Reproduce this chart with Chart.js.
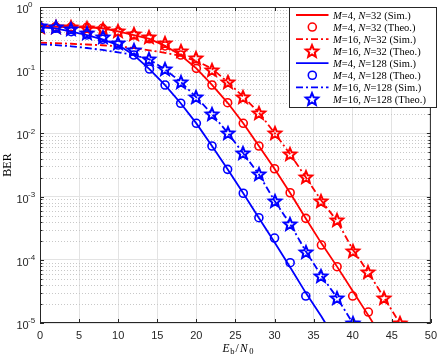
<!DOCTYPE html>
<html><head><meta charset="utf-8">
<script src="https://cdn.jsdelivr.net/npm/chart.js@4/dist/chart.umd.min.js"></script>
<style>html,body{margin:0;padding:0;background:#fff}#wrap{width:443px;height:354px;position:relative}</style>
</head><body><div id="wrap"><canvas id="c" width="443" height="354"></canvas></div>
<script>
// ---------- data ----------
const xM4N32Theo = [0,2,4,6,8,10,12,14,16,18,20,22,24,26,28,30,32,34,36,38,40,42];
const berM4N32Theo = [0.491,0.488,0.483,0.477,0.460,0.407,0.361,0.314,0.242,0.174,0.107,0.0583,0.0306,0.01445,0.00632,0.00276,0.00115,0.000453,0.000171,7.78e-5,2.67e-5,1.49e-5];
const xM4N32Sim = [0,2,4,6,8,10,12,14,16,18,20,22,24,26,28,30,32,34,36,38,40,42,42.6];
const berM4N32Sim = [0.490,0.487,0.482,0.476,0.460,0.410,0.360,0.312,0.243,0.172,0.107,0.0585,0.0305,0.0145,0.0063,0.00275,0.00114,0.00045,0.000182,7.8e-5,3.2e-5,1.32e-5,1.0e-5];

const xM16N32Theo = [0,2,4,6,8,10,12,14,16,18,20,22,24,26,28,30,32,34,36,38,40,42,44,46];
const berM16N32Theo = [0.488,0.488,0.477,0.460,0.444,0.417,0.374,0.332,0.267,0.204,0.158,0.101,0.0651,0.0381,0.0213,0.0102,0.00469,0.00202,0.000861,0.000422,0.000140,6.41e-5,2.51e-5,1.01e-5];
const xM16N32Sim = [0,2,4,6,8,10,12,14,16,18,20,22,24,26,28,30,32,34,36,38,40,42,44,46];
const berM16N32Sim = [0.272,0.268,0.262,0.255,0.248,0.239,0.2245,0.2065,0.1885,0.168,0.140,0.106,0.0651,0.0381,0.0213,0.0102,0.00469,0.00202,0.000861,0.000411,0.000146,6.30e-5,2.53e-5,1.0e-5];

const xM4N128Theo = [0,2,4,6,8,10,12,14,16,18,20,22,24,26,28,30,32,34];
const berM4N128Theo = [0.477,0.460,0.407,0.361,0.308,0.250,0.174,0.1045,0.0583,0.0300,0.01445,0.00632,0.0027,0.00113,0.000464,0.000221,9.0e-5,2.67e-5];
const xM4N128Sim = [0,2,4,6,8,10,12,14,16,18,20,22,24,26,28,30,32,34,36,36.5];
const berM4N128Sim = [0.478,0.460,0.407,0.360,0.308,0.250,0.174,0.104,0.058,0.030,0.0144,0.0063,0.0027,0.00113,0.00046,0.00019,7.6e-5,3.0e-5,1.27e-5,1.0e-5];

const xM16N128Theo = [0,2,4,6,8,10,12,14,16,18,20,22,24,26,28,30,32,34,36,38,40];
const berM16N128Theo = [0.500,0.488,0.444,0.392,0.332,0.272,0.209,0.149,0.1026,0.0651,0.0373,0.0203,0.01026,0.00484,0.00225,0.000837,0.000368,0.000134,5.6e-5,2.51e-5,1.01e-5];
const xM16N128Sim = [0,2,4,6,8,10,12,14,16,18,20,22,24,26,28,30,32,34,36,38,40];
const berM16N128Sim = [0.257,0.250,0.239,0.2245,0.209,0.192,0.174,0.148,0.1026,0.0651,0.0373,0.0203,0.01026,0.00484,0.00225,0.00086,0.000368,0.000136,5.6e-5,2.51e-5,1.0e-5];

const yTickExponents = [0,-1,-2,-3,-4,-5];
const legendLabels = [
  '$M$=4, $N$=32 (Sim.)', '$M$=4, $N$=32 (Theo.)',
  '$M$=16, $N$=32 (Sim.)', '$M$=16, $N$=32 (Theo.)',
  '$M$=4, $N$=128 (Sim.)', '$M$=4, $N$=128 (Theo.)',
  '$M$=16, $N$=128 (Sim.)', '$M$=16, $N$=128 (Theo.)'
];
const xTitleParts = ['E','b','/','N','0'];
const yTitle = 'BER';

// ---------- styles ----------
const RED = '#ff0000', BLUE = '#0000ff', AX = '#262626';
const DASHDOT = [7,3,2,3];
const SANS = '"Liberation Sans", Arial, sans-serif';
const SERIF = '"Liberation Serif", "Times New Roman", serif';

function starPath(g, cx, cy, R, r) {
  g.beginPath();
  for (let i = 0; i < 10; i++) {
    const a = -Math.PI / 2 + i * Math.PI / 5;
    const rad = (i % 2) ? r : R;
    g.lineTo(cx + rad * Math.cos(a), cy + rad * Math.sin(a));
  }
  g.closePath();
}
function makeStar(color) {
  const c = document.createElement('canvas');
  c.width = 18; c.height = 18;
  const g = c.getContext('2d');
  g.strokeStyle = color; g.lineWidth = 2; g.lineJoin = 'miter';
  starPath(g, 9, 9.6, 6.5, 2.9);
  g.stroke();
  return c;
}
const starRed = makeStar(RED), starBlue = makeStar(BLUE);

const pts = (xs, ys) => xs.map((x, i) => ({x, y: ys[i]}));
const simDs = (xs, ys, color, dash) => ({data: pts(xs, ys), showLine: true, borderColor: color, borderWidth: 1.8, borderDash: dash, pointRadius: 0, fill: false, tension: 0});
const circDs = (xs, ys, color) => ({data: pts(xs, ys), showLine: false, pointStyle: 'circle', pointRadius: 4, borderColor: color, backgroundColor: 'rgba(0,0,0,0)', pointBorderWidth: 1.6});
const starDs = (xs, ys, img) => ({data: pts(xs, ys), showLine: false, pointStyle: img, pointRadius: 6});

const datasets = [
  simDs(xM4N32Sim, berM4N32Sim, RED, []),
  circDs(xM4N32Theo, berM4N32Theo, RED),
  simDs(xM16N32Sim, berM16N32Sim, RED, DASHDOT),
  starDs(xM16N32Theo, berM16N32Theo, starRed),
  simDs(xM4N128Sim, berM4N128Sim, BLUE, []),
  circDs(xM4N128Theo, berM4N128Theo, BLUE),
  simDs(xM16N128Sim, berM16N128Sim, BLUE, DASHDOT),
  starDs(xM16N128Theo, berM16N128Theo, starBlue)
];
datasets.forEach((d, i) => d.order = datasets.length - 1 - i);

const legendKinds = [
  {kind:'line', color:RED, dash:[]}, {kind:'circle', color:RED},
  {kind:'line', color:RED, dash:DASHDOT}, {kind:'star', img:starRed},
  {kind:'line', color:BLUE, dash:[]}, {kind:'circle', color:BLUE},
  {kind:'line', color:BLUE, dash:DASHDOT}, {kind:'star', img:starBlue}
];

const yDecades = yTickExponents.map(e => Math.pow(10, e));
const yMinor = [];
yTickExponents.forEach(e => { if (e > -5) for (let m = 2; m <= 9; m++) yMinor.push(m * Math.pow(10, e - 1)); });
const isDecade = v => Math.abs(Math.log10(v) - Math.round(Math.log10(v))) < 1e-9;

function drawRich(g, text, x, y, size) {
  const parts = text.split('$');
  parts.forEach((p, i) => {
    if (!p) return;
    g.font = (i % 2 ? 'italic ' : '') + size + 'px ' + SERIF;
    g.fillText(p, x, y);
    x += g.measureText(p).width;
  });
}

const matlab = {
  id: 'matlab',
  beforeDatasetsDraw(chart) {
    const {ctx: g, chartArea: a, scales: {y}} = chart;
    g.save();
    g.strokeStyle = '#c8c8c8'; g.lineWidth = 1; g.setLineDash([1, 2]);
    yMinor.forEach(v => {
      const p = Math.round(y.getPixelForValue(v)) + 0.5;
      g.beginPath(); g.moveTo(a.left, p); g.lineTo(a.right, p); g.stroke();
    });
    g.restore();
    g.imageSmoothingEnabled = false;
  },
  afterDatasetsDraw(chart) {
    const {ctx: g, chartArea: a, scales: {x, y}} = chart;
    g.save();
    g.setLineDash([]);
    g.strokeStyle = AX; g.lineWidth = 1;
    g.strokeRect(a.left + 0.5, a.top + 0.5, a.right - a.left - 1, a.bottom - a.top - 1);
    x.ticks.forEach(t => {
      const p = Math.round(x.getPixelForValue(t.value)) + 0.5;
      g.beginPath();
      g.moveTo(p, a.bottom); g.lineTo(p, a.bottom - 4);
      g.moveTo(p, a.top); g.lineTo(p, a.top + 4);
      g.stroke();
    });
    y.ticks.forEach(t => {
      const p = Math.round(y.getPixelForValue(t.value)) + 0.5;
      const L = isDecade(t.value) ? 4 : 2.5;
      g.beginPath();
      g.moveTo(a.left, p); g.lineTo(a.left + L, p);
      g.moveTo(a.right, p); g.lineTo(a.right - L, p);
      g.stroke();
    });
    g.fillStyle = AX; g.textAlign = 'left'; g.textBaseline = 'middle';
    yTickExponents.forEach(e => {
      const p = y.getPixelForValue(Math.pow(10, e));
      g.font = '11px ' + SANS;
      g.fillText('10', 16.5, p + 3);
      g.font = '8px ' + SANS;
      g.fillText(e === 0 ? '0' : '-' + (-e), 28, p - 2);
    });
    g.save();
    g.translate(10.5, 165); g.rotate(-Math.PI / 2);
    g.textAlign = 'center'; g.textBaseline = 'alphabetic';
    g.font = '12px ' + SERIF; g.fillStyle = '#000';
    g.fillText(yTitle, 0, 0);
    g.restore();
    g.fillStyle = '#000'; g.textAlign = 'left'; g.textBaseline = 'alphabetic';
    const bl = 351.5;
    g.font = 'italic 11.5px ' + SERIF; g.fillText(xTitleParts[0], 222.5, bl);
    g.font = '8.5px ' + SERIF; g.fillText(xTitleParts[1], 230.2, bl + 2.5);
    g.font = '11.5px ' + SERIF; g.fillText(xTitleParts[2], 235.5, bl);
    g.font = 'italic 11.5px ' + SERIF; g.fillText(xTitleParts[3], 240, bl);
    g.font = '8.5px ' + SERIF; g.fillText(xTitleParts[4], 249.3, bl + 2.5);
    const lx = 289, ly = 7, lw = 147, lh = 100;
    g.fillStyle = '#fff'; g.fillRect(lx, ly, lw, lh);
    g.strokeStyle = AX; g.lineWidth = 1; g.strokeRect(lx + 0.5, ly + 0.5, lw, lh);
    legendKinds.forEach((k, i) => {
      const cy = 15 + i * 12.05;
      if (k.kind === 'line') {
        g.save(); g.strokeStyle = k.color; g.lineWidth = 1.8; g.setLineDash(k.dash);
        g.beginPath(); g.moveTo(296, cy); g.lineTo(328.5, cy); g.stroke(); g.restore();
      } else if (k.kind === 'circle') {
        g.save(); g.strokeStyle = k.color; g.lineWidth = 1.6;
        g.beginPath(); g.arc(312.3, cy, 4, 0, Math.PI * 2); g.stroke(); g.restore();
      } else {
        g.drawImage(k.img, Math.round(312.3 - 9), Math.round(cy - 9));
      }
      g.fillStyle = '#000'; g.textAlign = 'left'; g.textBaseline = 'alphabetic';
      drawRich(g, legendLabels[i], 333, cy + 3.6, 10.5);
    });
    g.restore();
  }
};

new Chart(document.getElementById('c'), {
  type: 'scatter',
  data: {datasets},
  options: {
    responsive: false, animation: false, devicePixelRatio: 1,
    layout: {padding: {left: 0, right: 7, top: 7, bottom: 0}},
    plugins: {legend: {display: false}, tooltip: {enabled: false}},
    scales: {
      x: {
        type: 'linear', min: 0, max: 50,
        ticks: {stepSize: 5, color: AX, font: {family: SANS, size: 11}, padding: 6, maxRotation: 0},
        grid: {color: '#e3e3e3', lineWidth: 1, drawTicks: false},
        border: {display: false},
        afterFit: s => { s.height = 31; }
      },
      y: {
        type: 'logarithmic', min: 1e-5, max: 1,
        afterBuildTicks: s => { s.ticks = yDecades.concat(yMinor).sort((p, q) => p - q).map(v => ({value: v})); },
        ticks: {display: false},
        grid: {color: c => (c.tick && isDecade(c.tick.value)) ? '#e3e3e3' : 'rgba(0,0,0,0)', lineWidth: 1, drawTicks: false},
        border: {display: false},
        afterFit: s => { s.width = 40; }
      }
    }
  },
  plugins: [matlab]
});
</script>
</body></html>
